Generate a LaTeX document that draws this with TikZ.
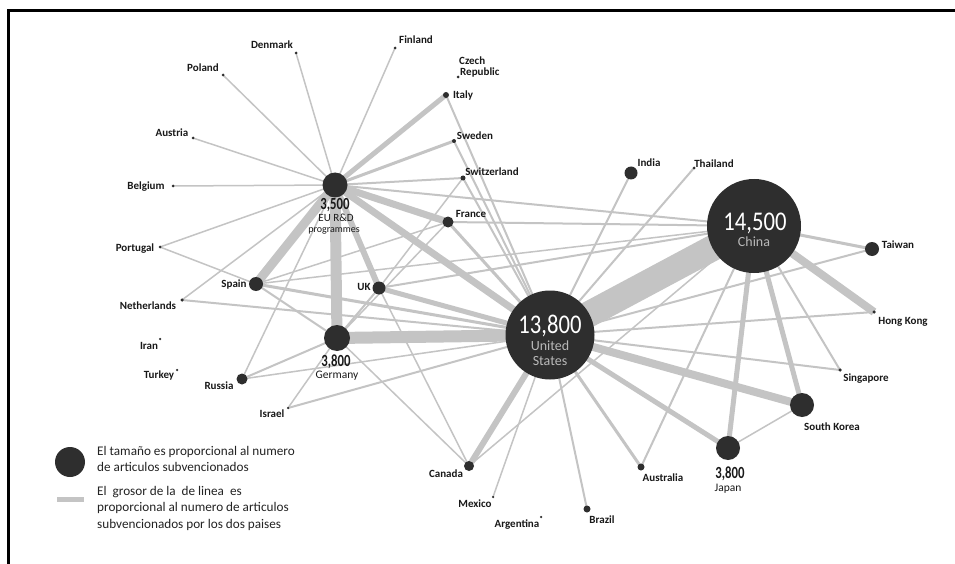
\documentclass[tikz,border=0pt]{standalone}
\usepackage{fontspec}
\usepackage{graphicx}
\setmainfont{Carlito}
\usetikzlibrary{backgrounds}

\definecolor{ink}{RGB}{46,46,46}
\definecolor{edgegray}{RGB}{196,196,196}
\definecolor{txt}{RGB}{25,25,25}
\definecolor{pale}{RGB}{185,185,185}
\definecolor{legtxt}{RGB}{35,35,35}

\newcommand\lblfont{\fontsize{11}{12}\selectfont\bfseries}
\newcommand\legfont{\fontsize{13.2}{16}\selectfont}

\begin{document}
\begin{tikzpicture}[x=1pt,y=-1pt,
  hub/.style={circle, fill=ink, inner sep=0pt, minimum size=#1},
  ctry/.style={font=\lblfont, text=txt, inner sep=0pt, anchor=base},
  bignum/.style={font=\fontsize{27}{27}\selectfont, text=white, inner sep=0pt, anchor=base},
  hubname/.style={font=\fontsize{14}{14}\selectfont, text=pale, inner sep=0pt, anchor=base},
  smallnum/.style={font=\fontsize{17}{17}\selectfont\bfseries, text=txt, inner sep=0pt, anchor=base},
  subname/.style={font=\fontsize{11.5}{12}\selectfont, text=txt, inner sep=0pt, anchor=base},
  lgtxt/.style={font=\legfont, text=legtxt, inner sep=0pt, anchor=base west},
]
\useasboundingbox (0,0) rectangle (955,564);

% ---- frame ----
\draw[line width=2.5pt, black] (955,10.5) -- (8.5,10.5) -- (8.5,564);

% ---- main hubs ----
\node[hub=89] (us) at (550,335) {};
\node[hub=94] (china) at (754,226) {};
\node[hub=25] (eu) at (335,185) {};
\node[hub=26] (germany) at (337,338) {};
\node[hub=24] (japan) at (728,448) {};
\node[hub=24] (southkorea) at (802,405) {};

% ---- other countries ----
\node[hub=3]   (poland) at (223,75) {};
\node[hub=3]   (denmark) at (296,53) {};
\node[hub=3]   (finland) at (395,48) {};
\node[hub=3]   (czech) at (458,77) {};
\node[hub=6]   (italy) at (446,95) {};
\node[hub=4]   (sweden) at (454,141) {};
\node[hub=5]   (switzerland) at (463,178) {};
\node[hub=11]  (france) at (448,222) {};
\node[hub=3]   (austria) at (193,138) {};
\node[hub=3]   (belgium) at (173,186) {};
\node[hub=3]   (portugal) at (160,247) {};
\node[hub=14]  (spain) at (256,284) {};
\node[hub=13]  (uk) at (379,288) {};
\node[hub=3.5] (netherlands) at (182,300) {};
\node[hub=2.5] (iran) at (160,339) {};
\node[hub=2.5] (turkey) at (177,370) {};
\node[hub=11]  (russia) at (242,379) {};
\node[hub=2.5] (israel) at (288,408) {};
\node[hub=13]  (india) at (631,173) {};
\node[hub=3]   (thailand) at (694,168) {};
\node[hub=14]  (taiwan) at (872,249) {};
\node[hub=3.5] (hongkong) at (874,312) {};
\node[hub=3.5] (singapore) at (840,370) {};
\node[hub=7]   (australia) at (641,467) {};
\node[hub=7]   (brazil) at (587,509) {};
\node[hub=2.5] (argentina) at (541,517) {};
\node[hub=2.5] (mexico) at (493,497) {};
\node[hub=10]  (canada) at (469,466) {};

% ---- hub texts ----
\node[bignum]  (us-n) at (550,333) {\scalebox{0.84}[1]{13,800}};
\node[hubname] (us-t1) at (550,350) {United};
\node[hubname] (us-t2) at (550,365) {States};
\node[bignum]  (china-n) at (755,230) {\scalebox{0.84}[1]{14,500}};
\node[hubname] (china-t) at (754,246) {China};
\node[smallnum] (eu-n) at (335,209.5) {\scalebox{0.75}[1]{3,500}};
\node[subname, font=\fontsize{11}{11}\selectfont] (eu-t1) at (336,221.5) {EU R\&D};
\node[subname, font=\fontsize{10}{10}\selectfont] (eu-t2) at (334,232) {programmes};
\node[smallnum] (germany-n) at (336,366) {\scalebox{0.75}[1]{3,800}};
\node[subname]  (germany-t) at (337,378.5) {Germany};
\node[smallnum] (japan-n) at (730,478) {\scalebox{0.75}[1]{3,800}};
\node[subname]  (japan-t) at (728,491) {Japan};

% ---- country labels ----
\node[ctry] (poland-l) at (203,71.5) {Poland};
\node[ctry] (denmark-l) at (272,48.5) {Denmark};
\node[ctry] (finland-l) at (416,43.5) {Finland};
\node[ctry, anchor=base west] (czech-l1) at (459,64.5) {Czech};
\node[ctry, anchor=base west] (czech-l2) at (460,75.5) {Republic};
\node[ctry] (italy-l) at (463,98.5) {Italy};
\node[ctry] (sweden-l) at (475,139.5) {Sweden};
\node[ctry] (switzerland-l) at (492,175.5) {Switzerland};
\node[ctry] (france-l) at (471,217.5) {France};
\node[ctry] (austria-l) at (172,136.5) {Austria};
\node[ctry] (belgium-l) at (146,189.5) {Belgium};
\node[ctry] (portugal-l) at (135,251.5) {Portugal};
\node[ctry] (spain-l) at (234,287.5) {Spain};
\node[ctry] (uk-l) at (364,290.5) {UK};
\node[ctry] (netherlands-l) at (148,309.5) {Netherlands};
\node[ctry] (iran-l) at (149,349.5) {Iran};
\node[ctry] (turkey-l) at (159,378.5) {Turkey};
\node[ctry] (russia-l) at (219,389.5) {Russia};
\node[ctry] (israel-l) at (272,417.5) {Israel};
\node[ctry] (india-l) at (649,166.5) {India};
\node[ctry] (thailand-l) at (714,167.5) {Thailand};
\node[ctry] (taiwan-l) at (898,248.5) {Taiwan};
\node[ctry] (hongkong-l) at (903,324.5) {Hong Kong};
\node[ctry] (singapore-l) at (866,381.5) {Singapore};
\node[ctry] (southkorea-l) at (832,430.5) {South Korea};
\node[ctry] (australia-l) at (663,481.5) {Australia};
\node[ctry] (brazil-l) at (602,523.5) {Brazil};
\node[ctry] (argentina-l) at (517,527.5) {Argentina};
\node[ctry] (mexico-l) at (475,507.5) {Mexico};
\node[ctry] (canada-l) at (446,477.5) {Canada};

% ---- legend ----
\node[hub=30] (lg-circle) at (70,462) {};
\node[rectangle, fill=edgegray, inner sep=0pt, minimum width=27, minimum height=5] (lg-bar) at (70.5,499) {};
\node[lgtxt] (lg-a1) at (97,455.5) {El tamaño es proporcional al numero};
\node[lgtxt] (lg-a2) at (97,471.5) {de articulos subvencionados};
\node[lgtxt] (lg-b1) at (97,495.5) {El\ \ grosor de la\ \ de linea\ \ es};
\node[lgtxt] (lg-b2) at (97,511.5) {proporcional al numero de articulos};
\node[lgtxt] (lg-b3) at (97,528) {subvencionados por los dos paises};

% ---- links, width ~ co-funded articles ----
\begin{scope}[on background layer]
\fill[white] (0,0) rectangle (955,564);
\foreach \a/\b/\w in {
  eu/poland/1.5, eu/denmark/1.5, eu/finland/1.5, eu/austria/1.5, eu/belgium/1.5,
  eu/portugal/1.5, eu/netherlands/1.5, eu/russia/1.5, eu/switzerland/2, eu/china/2,
  eu/italy/5, eu/sweden/3, eu/france/7, eu/spain/9, eu/germany/11, eu/uk/6, eu/us/7,
  germany/us/12, germany/spain/2, germany/russia/2, germany/israel/1.5, germany/uk/2,
  germany/canada/1.5, germany/france/1.5,
  us/china/26, us/spain/3, us/uk/5, us/france/3, us/netherlands/2, us/russia/1.5,
  us/israel/2, us/italy/2, us/sweden/2, us/switzerland/2, us/india/2, us/thailand/2,
  us/taiwan/2, us/hongkong/2, us/singapore/2, us/southkorea/8, us/japan/5,
  us/australia/3, us/brazil/2, us/mexico/1.5, us/canada/6,
  china/france/2, china/uk/2, china/spain/1.5, china/taiwan/3, china/hongkong/8,
  china/singapore/2, china/southkorea/5, china/japan/5, china/australia/2, china/canada/1.5,
  japan/southkorea/1.5, portugal/spain/1.5, uk/canada/1.5, uk/switzerland/1.5, spain/france/1.5}
  \draw[line width=\w pt, draw=edgegray] (\a.center) -- (\b.center);
\end{scope}
\end{tikzpicture}
\end{document}
